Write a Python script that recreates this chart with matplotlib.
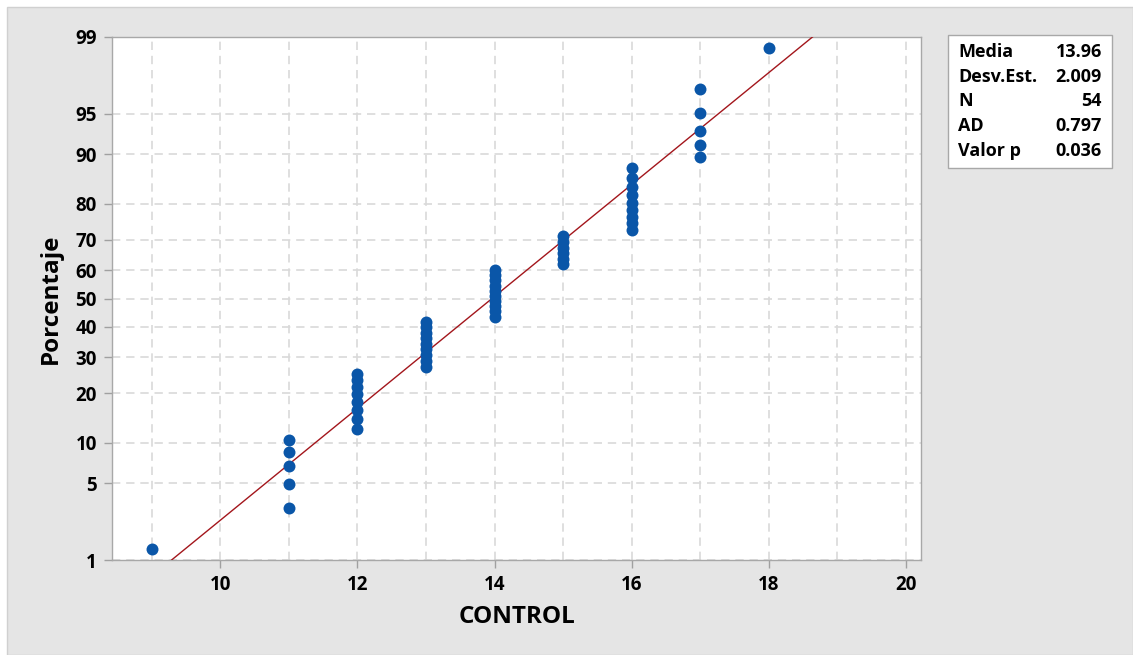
"""
Normal probability plot (Minitab style) for the CONTROL sample.
"""
from statistics import NormalDist

import matplotlib
matplotlib.use("Agg")
import matplotlib.pyplot as plt
import numpy as np
from matplotlib.patches import Rectangle
from matplotlib.ticker import FixedLocator, MultipleLocator

# sample values and how many times each one occurs
values = [9, 11, 12, 13, 14, 15, 16, 17, 18]
counts = [1, 5, 8, 9, 10, 6, 9, 5, 1]

y_ticks = [1, 5, 10, 20, 30, 40, 50, 60, 70, 80, 90, 95, 99]
x_ticks = [10, 12, 14, 16, 18, 20]

stat_names = ["Media", "Desv.Est.", "N", "AD", "Valor p"]
stat_values = ["13.96", "2.009", "54", "0.797", "0.036"]

BLUE = "#0a56a8"
RED = "#a3161c"
GRID = "#d9d9d9"
PANEL = "#e5e5e5"
FONT = "Open Sans"
WEIGHT = "bold"

_nd = NormalDist()
_inv = np.vectorize(_nd.inv_cdf, otypes=[float])
_cdf = np.vectorize(_nd.cdf, otypes=[float])


def to_z(p):
    p = np.clip(np.asarray(p, dtype=float) / 100.0, 1e-9, 1 - 1e-9)
    return _inv(p)


def from_z(z):
    return _cdf(np.asarray(z, dtype=float)) * 100.0


x = np.repeat(values, counts).astype(float)
n = len(x)
ranks = np.arange(1, n + 1)
pct = (ranks - 0.3) / (n + 0.4) * 100  # median ranks
mean, sd = x.mean(), x.std(ddof=1)

fig = plt.figure(figsize=(11.33, 6.55), dpi=100, facecolor="white")
fig.patches.append(Rectangle((7 / 1133, 0), 1 - 7 / 1133, 1 - 7 / 655,
                             transform=fig.transFigure, facecolor=PANEL,
                             edgecolor="#d0d0d0", linewidth=1, zorder=-1))

ax = fig.add_axes([112 / 1133, 95 / 655, 809 / 1133, 523 / 655])
ax.set_yscale("function", functions=(to_z, from_z))

xs = np.linspace(8.4, 20.3, 400)
ys = from_z((xs - mean) / sd)
ax.plot(xs, ys, color=RED, linewidth=1, zorder=3)
ax.plot(x, pct, "o", color=BLUE, markersize=8.6, markeredgewidth=0, zorder=4)

ax.set_xlim(8.42, 20.22)
ax.set_ylim(1, 99)
ax.xaxis.set_major_locator(FixedLocator(x_ticks))
ax.xaxis.set_minor_locator(MultipleLocator(1))
ax.yaxis.set_major_locator(FixedLocator(y_ticks))
ax.yaxis.set_minor_locator(FixedLocator([]))
ax.set_yticklabels([str(t) for t in y_ticks])

ax.grid(True, which="both", color=GRID, linestyle=(0, (5, 3.5)), linewidth=1.2)
ax.tick_params(which="major", length=6, width=1, color="#a0a0a0",
               labelsize=13.5, pad=5)
ax.tick_params(which="minor", length=0)
for lab in ax.get_xticklabels() + ax.get_yticklabels():
    lab.set_fontfamily(FONT)
    lab.set_fontweight(WEIGHT)

for side in ["top", "right", "left", "bottom"]:
    ax.spines[side].set_color("#a8a8a8")
    ax.spines[side].set_linewidth(1)

ax.set_xlabel("CONTROL", fontsize=17.5, fontweight=WEIGHT, family=FONT, labelpad=7)
ax.set_ylabel("Porcentaje", fontsize=17.5, fontweight=WEIGHT, family=FONT, labelpad=9)

# statistics box
fig.patches.append(Rectangle((948 / 1133, 1 - 168 / 655), 164 / 1133, 133 / 655,
                             transform=fig.transFigure, facecolor="white",
                             edgecolor="#a8a8a8", linewidth=1, zorder=2))
for i, (name, val) in enumerate(zip(stat_names, stat_values)):
    yy = 1 - (52 + i * 24.7) / 655
    fig.text(958 / 1133, yy, name, ha="left", va="center", fontsize=13,
             fontweight=WEIGHT, family=FONT, zorder=3)
    fig.text(1102 / 1133, yy, val, ha="right", va="center", fontsize=13,
             fontweight=WEIGHT, family=FONT, zorder=3)

fig.savefig("out.png", dpi=100, facecolor=fig.get_facecolor())
